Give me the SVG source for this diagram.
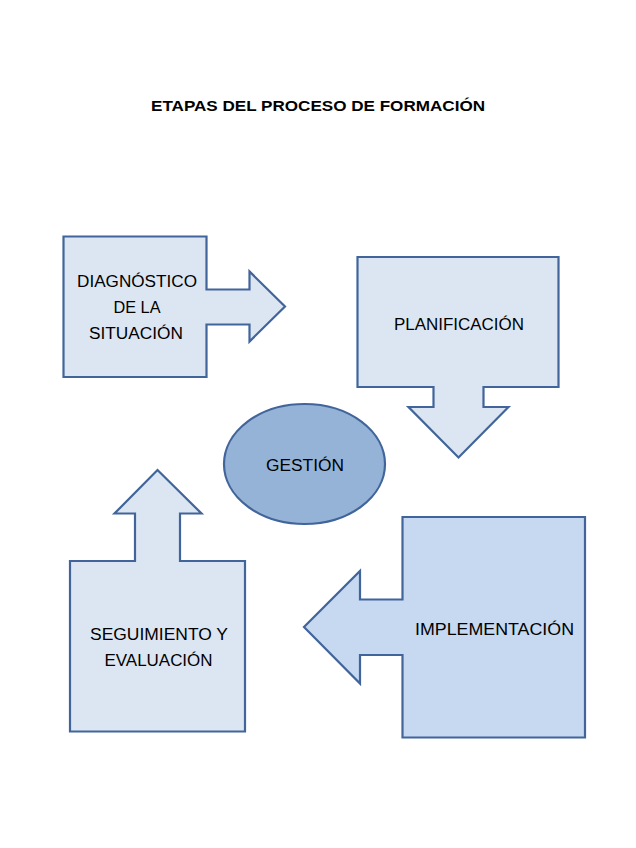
<svg xmlns="http://www.w3.org/2000/svg" width="636" height="848" viewBox="0 0 636 848">
<style>
.shape{fill:#dce6f2;stroke:#41659b;stroke-width:2.2;stroke-linejoin:miter}
.dark{fill:#c6d9f1}
.ell{fill:#95b3d7;stroke:#41659b;stroke-width:2.2}
text{font-family:"Liberation Sans",Arial,sans-serif;font-size:16px;fill:#000;text-anchor:middle}
.title{font-weight:bold;font-size:15.5px}
</style>
<rect width="636" height="848" fill="#fff"/>
<text class="title" x="318" y="111" textLength="334" lengthAdjust="spacingAndGlyphs">ETAPAS DEL PROCESO DE FORMACIÓN</text>
<g id="connectors"></g>
<g id="diagnostico">
<path class="shape" d="M63.5,236.5 H206.5 V289.5 H249.5 V271.5 L285,306.5 L249.5,341.5 V324.5 H206.5 V377 H63.5 Z"/>
<text x="137" y="287" textLength="120" lengthAdjust="spacingAndGlyphs">DIAGNÓSTICO</text>
<text x="137" y="313" textLength="47" lengthAdjust="spacingAndGlyphs">DE LA</text>
<text x="136" y="339" textLength="94" lengthAdjust="spacingAndGlyphs">SITUACIÓN</text>
</g>
<g id="planificacion">
<path class="shape" d="M357.5,257 H558.5 V387 H483.5 V407 H508.5 L458.5,457.5 L408.5,407 H433.5 V387 H357.5 Z"/>
<text x="459" y="330" textLength="130" lengthAdjust="spacingAndGlyphs">PLANIFICACIÓN</text>
</g>
<g id="implementacion">
<path class="shape dark" d="M402.5,517 H585 V737.5 H402.5 V655 H360 V683.5 L304,627 L360,571 V599.5 H402.5 Z"/>
<text x="494.5" y="634.5" textLength="159" lengthAdjust="spacingAndGlyphs">IMPLEMENTACIÓN</text>
</g>
<g id="seguimiento">
<path class="shape" d="M70,561 H135 V513.5 H114.5 L157.5,470 L201.5,513.5 H180 V561 H245 V731.5 H70 Z"/>
<text x="159" y="640" textLength="138" lengthAdjust="spacingAndGlyphs">SEGUIMIENTO Y</text>
<text x="158.5" y="666" textLength="108" lengthAdjust="spacingAndGlyphs">EVALUACIÓN</text>
</g>
<g id="gestion">
<ellipse class="ell" cx="304.5" cy="464" rx="80.5" ry="60"/>
<text x="305" y="471" textLength="78" lengthAdjust="spacingAndGlyphs">GESTIÓN</text>
</g>
</svg>
